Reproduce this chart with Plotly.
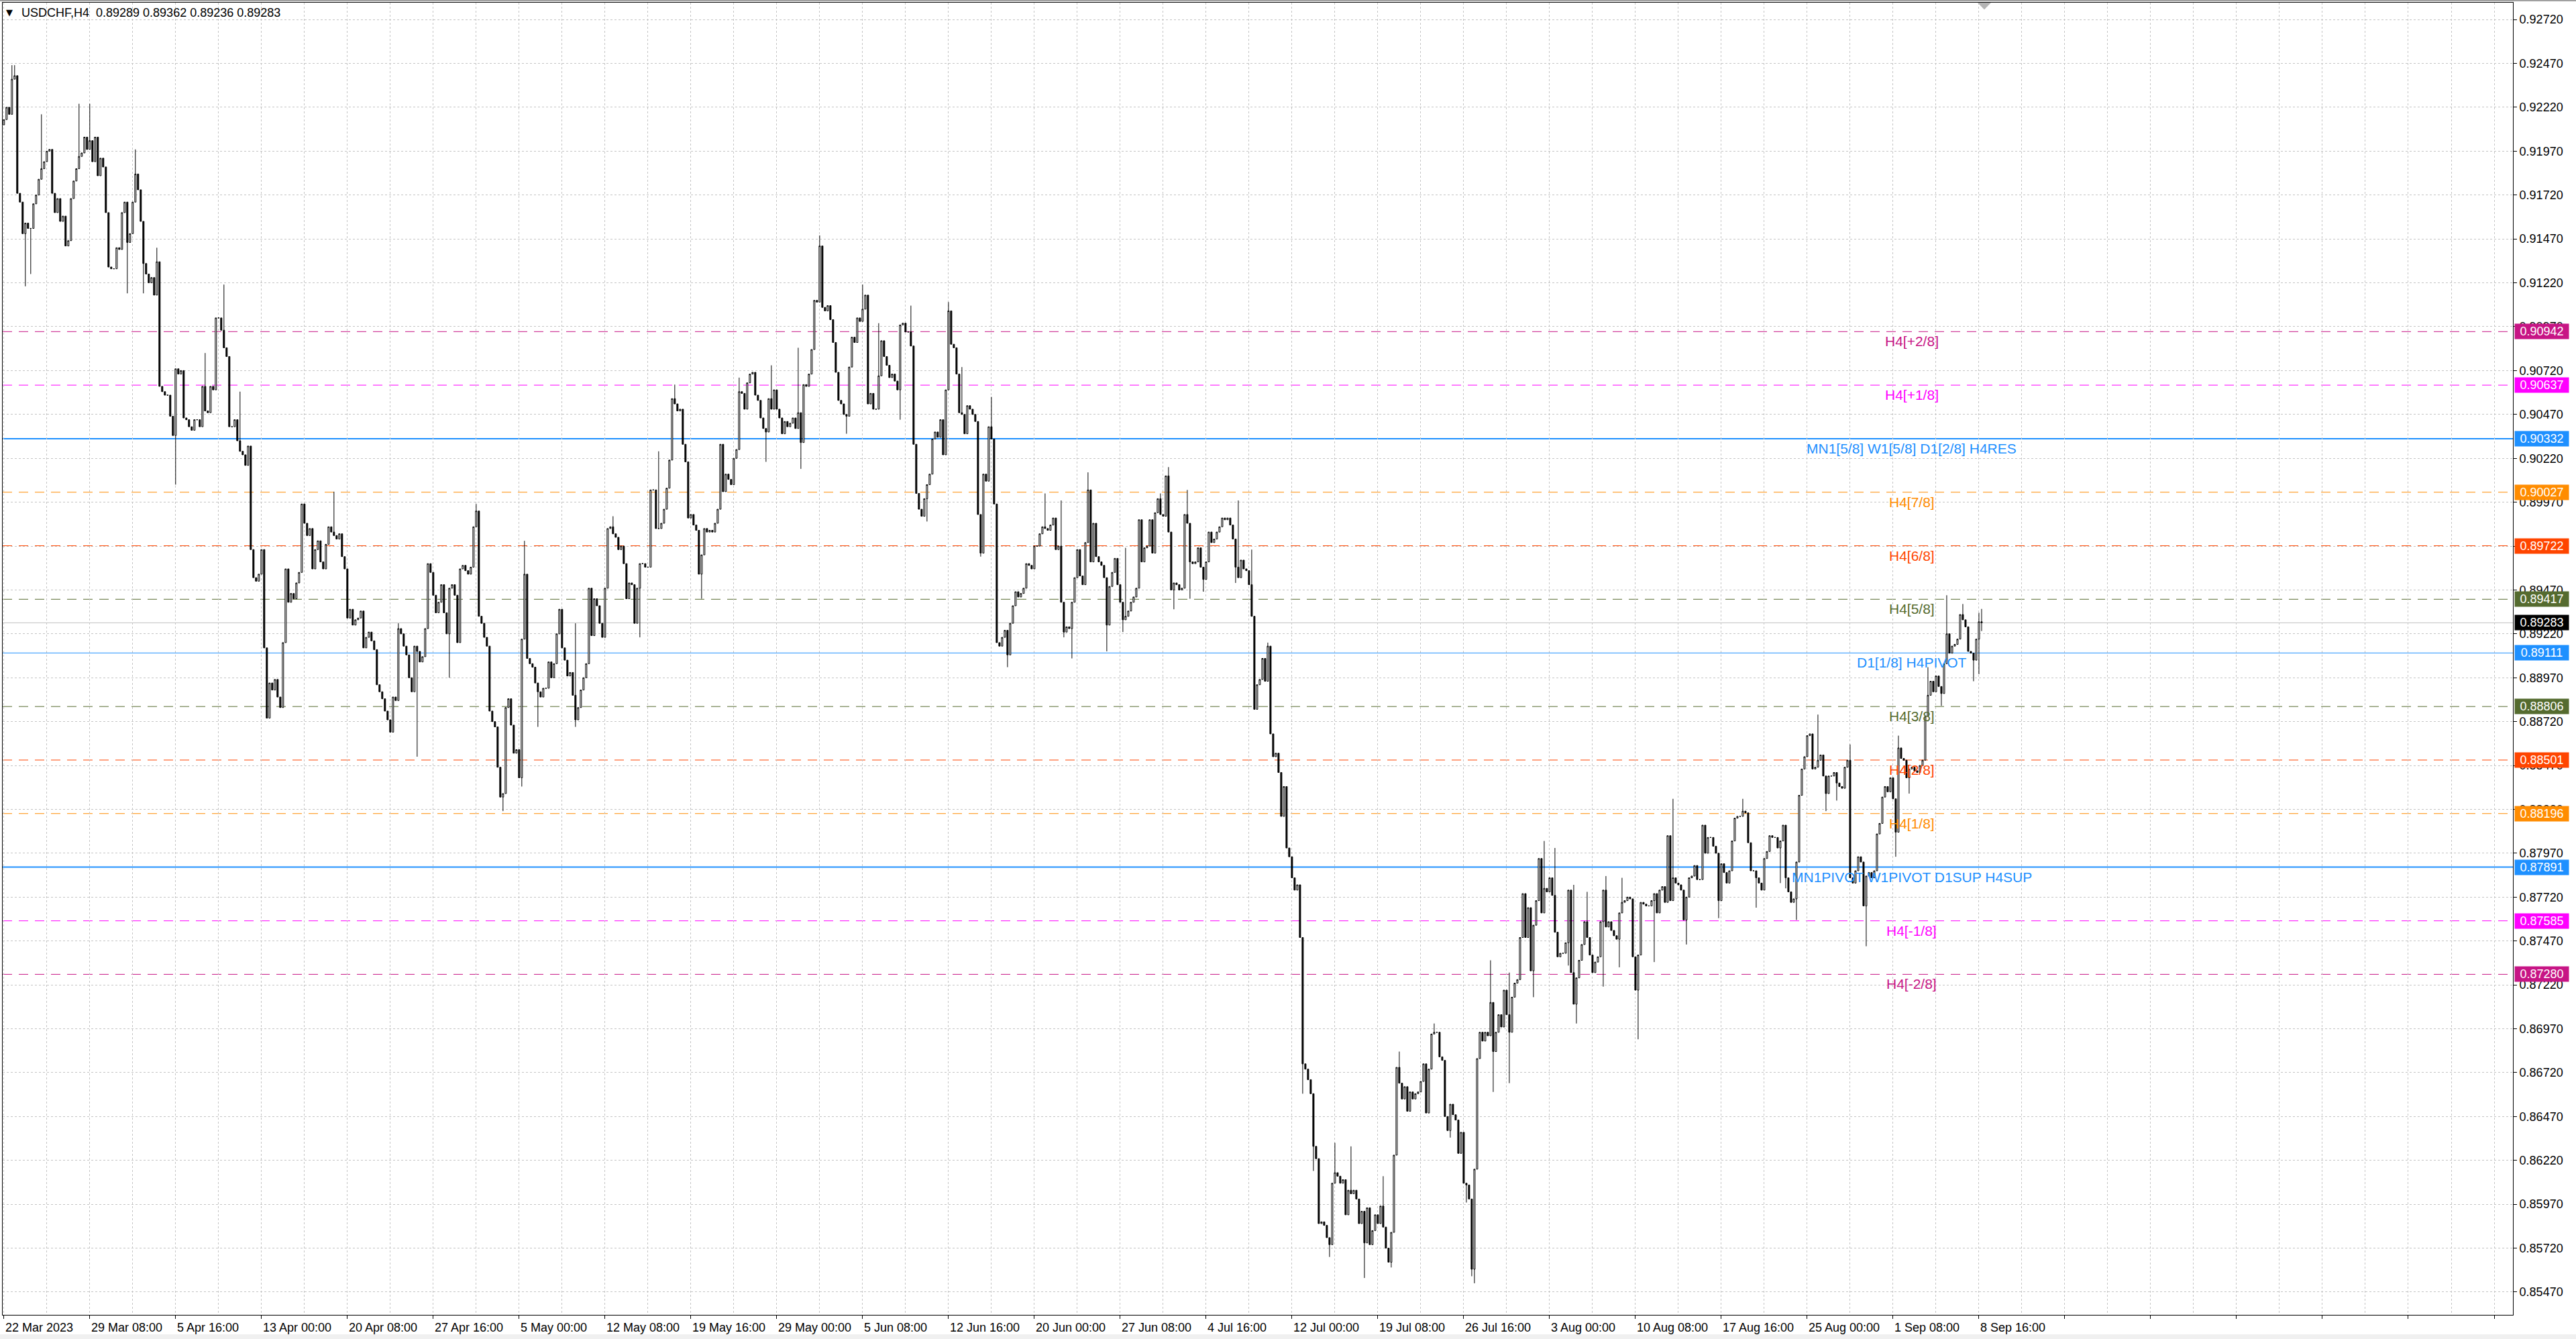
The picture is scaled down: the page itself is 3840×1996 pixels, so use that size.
import plotly.graph_objects as go

# USDCHF H4 closes, in pips (price x 10000)
first_open = 9212

close_22mar_5may = [
    9215, 9222, 9218, 9238, 9240, 9173, 9168, 9150, 9156, 9153,
    9153, 9167, 9172, 9181, 9187, 9191, 9197, 9198, 9173, 9162,
    9170, 9157, 9160, 9143, 9146, 9170, 9180, 9187, 9194, 9196,
    9205, 9198, 9203, 9191, 9205, 9183, 9193, 9188, 9162, 9131,
    9130, 9130, 9142, 9141, 9162, 9168, 9145, 9150, 9168, 9184,
    9175, 9157, 9133, 9127, 9122, 9125, 9115, 9134, 9063, 9060,
    9058, 9058, 9046, 9035, 9073, 9070, 9072, 9045, 9044, 9040,
    9038, 9044, 9044, 9040, 9063, 9049, 9048, 9063, 9061, 9102,
    9102, 9095, 9085, 9080, 9040, 9040, 9044, 9032, 9026, 9024,
    9018, 9029,
    8970, 8954, 8952, 8956, 8970, 8914, 8874, 8894, 8890, 8896,
    8886, 8880, 8917, 8959, 8940, 8945, 8942, 8951, 8957, 8996,
    8985, 8978, 8982, 8959, 8970, 8975, 8963, 8959, 8973, 8983,
    8980, 8978, 8976, 8979, 8966, 8959, 8931, 8936, 8927, 8930,
    8931, 8935, 8914, 8920, 8923, 8918, 8913, 8893, 8889, 8885,
    8878, 8873, 8866, 8886, 8884, 8925, 8922, 8915, 8910, 8897,
    8889, 8915, 8912, 8906, 8909, 8925, 8962, 8957, 8944, 8934,
    8940, 8950, 8934, 8922, 8948, 8950, 8944, 8917, 8959, 8961,
    8958, 8956, 8960, 8983, 8992, 8932, 8928, 8920, 8915, 8878,
    8872, 8869, 8846, 8829, 8831, 8880, 8885, 8870, 8854, 8856,
    8840, 8919, 8956, 8908, 8905, 8903,
]

close_5may_21jun = [
    8894, 8889, 8886, 8891, 8891, 8906, 8897, 8905, 8922, 8936,
    8914, 8907, 8898, 8900, 8887, 8873, 8880, 8890, 8897, 8905,
    8948, 8921, 8942, 8938, 8928, 8920, 8948, 8982, 8983, 8979,
    8977, 8970, 8972, 8962, 8942, 8951, 8950, 8928, 8948, 8962,
    8962, 8960, 8960, 9004, 9004, 8982, 8982, 8985, 8993, 9005,
    9021, 9056, 9053, 9049, 9050, 9030, 9020, 8988, 8990, 8984,
    8981, 8956, 8967, 8982, 8980, 8981, 8980, 8985, 8993, 9030, 9003,
    9013, 9010, 9007, 9022, 9027, 9060, 9059, 9050, 9065, 9070,
    9071, 9058, 9055, 9045, 9039, 9037, 9056, 9050, 9061, 9050,
    9045, 9036, 9043, 9040, 9042, 9045, 9039, 9048, 9031, 9064, 9063,
    9070, 9084, 9112, 9111, 9143, 9108, 9106, 9109, 9101, 9088,
    9071, 9055, 9053, 9047, 9046, 9074, 9091, 9088, 9102, 9100,
    9107, 9115, 9053, 9059, 9050, 9050, 9069, 9089, 9080, 9075,
    9068, 9070, 9066, 9061, 9098, 9099, 9094, 9094, 9086, 9030,
    9002, 8993, 8989, 8999, 9007, 9013, 9033, 9037, 9034, 9044,
    9024, 9061, 9106, 9087, 9085, 9070, 9048, 9047, 9036, 9052,
    9050, 9047, 9043, 8990, 8968, 9013, 9009, 9040, 9033, 8996,
    8917, 8915, 8920, 8924, 8910, 8928, 8938, 8946, 8943, 8945,
    8948, 8962, 8961, 8959, 8972, 8972, 8979, 8983, 8982, 8981,
    8984, 8988, 8970, 8972,
]

close_21jun_6jul = [
    8940, 8923, 8926, 8925, 8940, 8954, 8970, 8955, 8950, 8974,
    9004, 8963, 8985, 8966, 8963, 8961, 8954, 8927, 8949, 8957,
    8965, 8950, 8940, 8930, 8932, 8935, 8940, 8943, 8948, 8987,
    8963, 8971, 8972, 8987, 8968, 8991, 8999, 8990, 8989, 9012,
    8980, 8947, 8951, 8950, 8947, 8948, 8990, 8985, 8963, 8962,
    8963, 8971, 8960, 8953, 8963, 8980, 8974, 8976, 8980, 8983,
    8988, 8987, 8988, 8984, 8976, 8960, 8954, 8964, 8959, 8958,
    8950, 8932, 8879, 8893, 8896, 8908, 8895, 8915, 8865, 8852,
]

close_6jul_21aug = [
    8854, 8843, 8818, 8835, 8800, 8795, 8783, 8776, 8779, 8749,
    8677, 8674, 8668, 8660, 8630, 8623, 8586, 8587, 8585, 8578,
    8574, 8609, 8615, 8613, 8609, 8611, 8591, 8605, 8603, 8605,
    8600, 8586, 8593, 8575, 8595, 8574, 8582, 8591, 8586, 8596,
    8584, 8572, 8564, 8581, 8625, 8675, 8666, 8657, 8664, 8650,
    8661, 8657, 8660, 8661, 8667, 8677, 8649, 8674, 8694, 8695,
    8695, 8681, 8679, 8647, 8639, 8654, 8648, 8645, 8626, 8638, 8609,
    8608, 8600, 8560, 8617, 8680, 8695, 8690, 8695, 8693, 8712,
    8684, 8695, 8705, 8698, 8719, 8705, 8695, 8715, 8723, 8725,
    8749, 8774, 8749, 8766, 8730, 8756, 8770, 8794, 8763, 8777,
    8775, 8783, 8773, 8752, 8738, 8740, 8740, 8746, 8776, 8729,
    8711, 8726, 8736, 8745, 8758, 8749, 8739, 8729, 8735, 8738,
    8758, 8776, 8755, 8758, 8753, 8750, 8748, 8763, 8769, 8770, 8772,
    8771, 8738, 8719, 8739, 8769, 8768, 8767, 8767, 8770, 8774,
    8763, 8776, 8778, 8769, 8807, 8770, 8783, 8780, 8779, 8776, 8759,
    8772, 8783, 8784, 8790, 8782, 8782, 8813, 8797, 8806, 8806,
    8801, 8797, 8770, 8791, 8786, 8780, 8787, 8804, 8817, 8818,
    8818, 8821, 8820, 8803, 8787, 8787, 8783, 8780, 8776, 8794,
    8798, 8807, 8806, 8806, 8800,
]

close_21aug_8sep = [
    8804, 8813, 8783, 8775, 8769, 8771, 8792, 8830, 8845, 8852,
    8864, 8865, 8845, 8846, 8850, 8853, 8841, 8831, 8841, 8841,
    8843, 8837, 8835, 8834, 8846, 8850, 8783, 8780, 8787, 8795,
    8792, 8767, 8784, 8786, 8783, 8787, 8808, 8814, 8829, 8835,
    8832, 8840, 8828, 8809, 8857, 8851, 8850, 8840, 8845, 8846,
    8844, 8843, 8847, 8850, 8875, 8887, 8895, 8889, 8898, 8892,
    8888, 8905, 8922, 8911, 8915, 8916, 8919, 8933, 8930, 8926,
    8912, 8911, 8907, 8919, 8928.9, 8928.3,
]

# visible wick extremes (bar index: pips)
wick_high = {
    3: 9246, 4: 9246, 14: 9218, 28: 9224, 32: 9224, 49: 9198, 57: 9142,
    75: 9082, 82: 9121, 88: 9060, 123: 9003, 147: 8928, 176: 8996, 194: 8975,
    213: 8928, 227: 8989, 244: 9026, 250: 9064, 274: 9068, 286: 9075,
    296: 9085, 304: 9149, 320: 9121, 326: 9099, 338: 9109, 352: 9111,
    357: 9074, 368: 9057, 388: 9002, 394: 8998, 404: 9014, 418: 8971,
    431: 9002, 434: 9017, 441: 9004, 460: 8998, 465: 8970, 471: 8917,
    496: 8632, 502: 8630, 514: 8613, 520: 8684, 533: 8700, 554: 8736,
    561: 8729, 574: 8804, 578: 8800, 585: 8779, 590: 8775, 597: 8784,
    603: 8783, 622: 8828, 648: 8828, 676: 8876, 688: 8859, 706: 8864,
    717: 8903, 724: 8944, 730: 8939, 736: 8934, 737: 8936.2,
}
wick_low = {
    8: 9120, 10: 9127, 46: 9116, 52: 9116, 64: 9007, 154: 8852, 166: 8897,
    186: 8821, 193: 8835, 199: 8869, 213: 8869, 237: 8920, 260: 8942,
    284: 9020, 297: 9016, 314: 9036, 334: 9044, 344: 8986, 364: 8966,
    374: 8903, 395: 8920, 398: 8908, 411: 8912, 417: 8923, 436: 8936,
    442: 8942, 447: 8946, 459: 8951, 466: 8879, 484: 8660, 488: 8616,
    494: 8567, 507: 8555, 517: 8561, 539: 8635, 545: 8598, 547: 8556,
    548: 8552, 555: 8661, 561: 8666, 570: 8715, 583: 8733, 586: 8700,
    596: 8721, 602: 8732, 609: 8691, 615: 8735, 627: 8745, 639: 8760,
    653: 8766, 662: 8780, 664: 8777, 668: 8759, 679: 8821, 683: 8827,
    694: 8744, 705: 8795, 710: 8831, 722: 8881, 734: 8895, 736: 8899,
    737: 8923.6,
}

# time labels, one every 32 bars
tick_labels = [
    "22 Mar 2023", "29 Mar 08:00", "5 Apr 16:00", "13 Apr 00:00", "20 Apr 08:00",
    "27 Apr 16:00", "5 May 00:00", "12 May 08:00", "19 May 16:00", "29 May 00:00",
    "5 Jun 08:00", "12 Jun 16:00", "20 Jun 00:00", "27 Jun 08:00", "4 Jul 16:00",
    "12 Jul 00:00", "19 Jul 08:00", "26 Jul 16:00", "3 Aug 00:00", "10 Aug 08:00",
    "17 Aug 16:00", "25 Aug 00:00", "1 Sep 08:00", "8 Sep 16:00",
]

level_prices = [0.90942, 0.90637, 0.90332, 0.90027, 0.89722, 0.89417, 0.89111,
                0.88806, 0.88501, 0.88196, 0.87891, 0.87585, 0.87280]
level_names = ["H4[+2/8]", "H4[+1/8]", "MN1[5/8] W1[5/8] D1[2/8] H4RES", "H4[7/8]",
               "H4[6/8]", "H4[5/8]", "D1[1/8] H4PIVOT", "H4[3/8]", "H4[2/8]",
               "H4[1/8]", "MN1PIVOT W1PIVOT D1SUP H4SUP", "H4[-1/8]", "H4[-2/8]"]
level_colors = ["#c71585", "#ff00ff", "#1e90ff", "#ff8c00", "#ff4500", "#556b2f",
                "#1e90ff", "#556b2f", "#ff4500", "#ff8c00", "#1e90ff", "#ff00ff",
                "#c71585"]
last_price = 0.89283

closes = (close_22mar_5may + close_5may_21jun + close_21jun_6jul
          + close_6jul_21aug + close_21aug_8sep)
bars = list(range(len(closes)))
opens = [first_open] + closes[:-1]
highs = [max(o, c, wick_high.get(i, 0)) for i, (o, c) in enumerate(zip(opens, closes))]
lows = [min(o, c, wick_low.get(i, 99999)) for i, (o, c) in enumerate(zip(opens, closes))]

fig = go.Figure(go.Candlestick(
    x=bars,
    open=[v / 10000 for v in opens],
    high=[v / 10000 for v in highs],
    low=[v / 10000 for v in lows],
    close=[v / 10000 for v in closes],
    increasing=dict(line=dict(color="black", width=1), fillcolor="white"),
    decreasing=dict(line=dict(color="black", width=1), fillcolor="black"),
    whiskerwidth=0,
    hoverinfo="skip",
))

font = "Liberation Sans"
grid = "#c4c4c4"
shapes = []
annotations = []

for p, name, col in zip(level_prices, level_names, level_colors):
    solid = col == "#1e90ff"
    width = 1 if name.startswith("D1[1/8]") else (2 if solid else 1)
    shapes.append(dict(type="line", xref="paper", x0=0, x1=1, yref="y", y0=p, y1=p,
                       layer="below",
                       line=dict(color=col, width=width, dash="solid" if solid else "14px,10px")))
    annotations.append(dict(x=711, y=p, xref="x", yref="y", text=name, showarrow=False,
                            xanchor="center", yanchor="top", yshift=-1,
                            font=dict(family=font, size=21, color=col)))

shapes.append(dict(type="line", xref="paper", x0=0, x1=1, yref="y", y0=last_price,
                   y1=last_price, layer="below", line=dict(color="#c0c0c0", width=1)))

# price boxes on the right axis
for p, col in list(zip(level_prices, level_colors)) + [(last_price, "black")]:
    annotations.append(dict(x=1, y=p, xref="paper", yref="y", text=f"{p:.5f}",
                            showarrow=False, xanchor="left", yanchor="middle", xshift=2,
                            bgcolor=col, width=78, height=20, borderpad=1,
                            font=dict(family=font, size=18, color="white")))

# time labels, left aligned on their tick
for k, lab in enumerate(tick_labels):
    annotations.append(dict(x=32 * k, y=0, xref="x", yref="paper", text=lab,
                            showarrow=False, xanchor="left", yanchor="top", yshift=-7,
                            font=dict(family=font, size=18, color="black")))

annotations.append(dict(x=0, y=1, xref="paper", yref="paper", text="\u25bc",
                        showarrow=False, xanchor="left", yanchor="top", xshift=3, yshift=-5,
                        font=dict(family="DejaVu Sans", size=13, color="black")))
annotations.append(dict(x=0, y=1, xref="paper", yref="paper",
                        text="USDCHF,H4\u00a0\u00a00.89289 0.89362 0.89236 0.89283",
                        showarrow=False, xanchor="left", yanchor="top", xshift=26, yshift=-3,
                        font=dict(family=font, size=18, color="black")))

# chart-shift marker at the top edge
shapes.append(dict(type="path", xref="x", yref="paper",
                   path="M 735.5,1 L 740.5,1 L 738,0.9948 Z",
                   fillcolor="#b4b4b4", line=dict(width=0)))
# window frame strips
shapes.append(dict(type="rect", xref="paper", yref="paper", x0=-0.01, x1=1.05,
                   y0=1.001, y1=1.0025, fillcolor="#a0a0a0", line=dict(width=0)))
shapes.append(dict(type="rect", xref="paper", yref="paper", x0=-0.01, x1=1.05,
                   y0=-0.0185, y1=-0.0148, fillcolor="#f0f0f0", line=dict(width=0)))

fig.update_layout(
    width=3840, height=1996,
    margin=dict(l=4, r=94, t=4, b=36),
    paper_bgcolor="white", plot_bgcolor="white",
    showlegend=False, hovermode=False,
    shapes=shapes, annotations=annotations,
    xaxis=dict(
        range=[-0.45, 935], tickmode="linear", tick0=0, dtick=32,
        ticks="outside", ticklen=5, tickcolor="black", showticklabels=False,
        showgrid=True, gridcolor=grid, griddash="3px,3px", gridwidth=1,
        minor=dict(tick0=0, dtick=16, showgrid=True, gridcolor=grid,
                   griddash="3px,3px", ticks=""),
        showline=True, linecolor="black", linewidth=1, mirror=True,
        zeroline=False, rangeslider=dict(visible=False),
    ),
    yaxis=dict(
        side="right", range=[0.85340, 0.92816], tickmode="linear", tick0=0.8547,
        dtick=0.0025, tickformat=".5f", ticks="outside", ticklen=5, tickcolor="black",
        showgrid=True, gridcolor=grid, griddash="3px,3px", gridwidth=1,
        showline=True, linecolor="black", linewidth=1, mirror=True, zeroline=False,
        tickfont=dict(family=font, size=18, color="black"),
    ),
)

fig.write_html("out.html", config={"displayModeBar": False},
               post_script="document.body.style.margin='0';")
